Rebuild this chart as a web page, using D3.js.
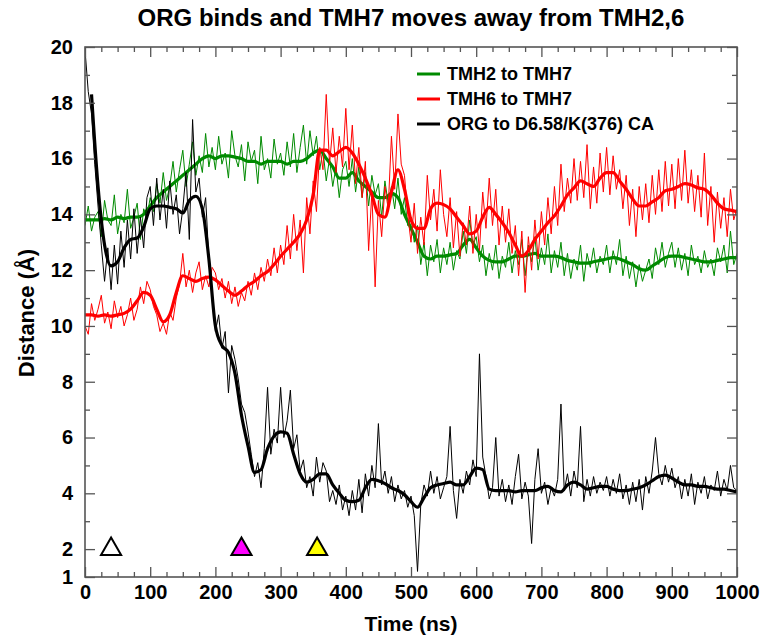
<!DOCTYPE html>
<html><head><meta charset="utf-8">
<script src="https://cdn.jsdelivr.net/npm/d3@7"></script>
<style>
body{margin:0;background:#fff}
svg text{font-family:"Liberation Sans",Arial,Helvetica,sans-serif;font-weight:bold;fill:#000}
</style>
</head><body>
<svg id="chart" width="763" height="637"></svg>
<script>
// ---------------- DATA ----------------
const title = "ORG binds and TMH7 moves away from TMH2,6";
const xLabel = "Time (ns)";
const yLabel = "Distance (Å)";
const seriesNames = ["TMH2 to TMH7", "TMH6 to TMH7", "ORG to D6.58/K(376) CA"];
const seriesColors = ["#008a00", "#ff0000", "#000000"];

const xTicks = [0,100,200,300,400,500,600,700,800,900,1000];
const yTicks = [1,2,4,6,8,10,12,14,16,18,20];

// raw samples every 5 ns (0..1000)
const rawTimes = d3.range(0, 1001, 5);
const tmh2Raw = [
13.6,14.3,13.4,13.9,14.1,13.2,14.5,13.8,13.6,14.7,13.3,14.0,13.7,14.9,13.5,13.9,14.4,13.1,14.2,13.9,
14.6,14.1,15.1,14.4,15.5,14.5,15.0,15.9,14.8,15.6,16.3,15.0,15.8,16.6,15.4,16.1,15.5,16.9,15.7,16.4,
15.6,16.8,15.8,16.2,15.3,17.0,16.1,15.7,16.5,15.2,16.6,15.9,16.3,15.1,16.8,15.6,16.0,15.3,16.7,15.8,
16.2,15.4,16.6,15.7,16.9,15.5,16.4,17.2,15.8,17.0,16.1,16.8,15.6,16.3,15.2,16.0,15.0,15.7,14.6,15.6,
15.9,15.0,16.0,14.8,15.7,14.6,15.5,14.3,15.4,14.7,15.1,13.9,15.2,14.4,15.0,14.2,15.3,14.0,14.6,13.6,
13.9,13.0,13.6,12.2,13.0,11.8,12.9,12.3,13.1,11.9,12.8,12.2,13.0,12.0,12.7,12.4,13.4,12.6,13.8,12.9,
13.2,12.3,12.9,11.8,12.6,12.0,12.9,11.7,12.5,12.1,13.0,11.9,12.7,12.2,13.1,11.8,12.9,12.3,13.2,12.0,
12.8,12.2,13.3,11.9,12.7,12.1,13.0,11.8,12.6,11.7,12.4,12.0,12.9,11.6,12.6,12.1,12.8,11.9,12.5,12.2,
12.9,11.9,12.7,12.2,13.1,11.8,12.5,11.7,12.3,11.4,12.2,11.6,12.0,12.4,11.7,12.8,12.2,13.0,12.1,12.6,
13.0,12.1,12.8,12.0,12.6,11.8,12.9,12.2,12.5,11.9,12.7,12.1,12.4,11.8,12.8,12.3,12.9,11.9,13.4,12.2,
12.6];
const tmh6Raw = [
10.0,9.7,10.8,10.2,10.6,11.1,10.1,10.5,9.9,10.9,10.3,10.7,10.0,10.4,11.0,10.2,10.6,11.4,10.8,11.6,
11.3,10.7,10.4,9.8,10.1,9.7,10.5,10.2,11.0,11.5,12.6,11.4,12.0,11.2,11.9,12.3,11.3,11.8,11.4,12.1,
11.9,11.3,11.7,11.0,11.6,10.8,11.4,10.7,11.2,10.9,11.6,11.1,11.9,11.3,12.1,11.6,12.4,11.8,12.8,11.9,
12.9,12.2,13.6,12.4,14.0,12.7,13.8,11.9,14.6,13.3,15.2,14.1,16.4,15.6,18.3,15.8,17.1,15.5,16.8,15.7,
17.8,15.6,17.2,15.1,16.4,14.6,15.9,12.7,14.8,11.4,14.5,13.2,15.0,14.2,16.8,14.9,17.6,15.8,15.4,14.0,
13.0,14.4,12.6,13.9,12.9,15.4,13.8,14.9,13.4,15.6,14.0,13.2,14.6,12.8,14.1,12.5,13.7,12.9,14.3,12.6,
14.0,12.7,14.8,13.5,15.3,13.6,14.9,12.9,14.3,13.0,14.2,12.6,13.6,11.8,13.4,11.2,13.2,12.0,13.8,12.4,
14.1,12.9,14.6,13.3,15.0,13.6,15.8,14.1,15.3,14.4,16.0,14.5,15.9,14.6,16.5,14.2,15.7,14.4,16.2,14.8,
16.4,14.7,16.1,14.9,15.6,14.2,15.4,13.6,14.9,13.2,15.0,13.8,15.1,13.7,15.4,14.0,15.6,14.1,15.9,14.3,
15.8,14.2,16.0,14.5,16.3,14.4,15.6,14.1,15.4,13.9,16.2,13.6,15.0,13.0,14.8,13.5,14.6,13.2,14.9,13.8,
14.2];
const orgRaw = [
19.9,18.4,17.6,15.8,14.3,12.9,11.6,12.8,11.3,12.9,11.5,13.4,12.1,13.8,12.4,14.2,12.6,13.9,12.8,14.6,
15.0,13.6,15.3,13.8,14.9,13.5,15.2,14.0,14.7,13.3,14.2,15.5,13.1,17.4,14.8,15.3,13.9,14.6,12.4,11.2,
9.8,10.4,9.2,9.8,7.6,9.3,8.8,8.1,7.2,6.9,6.2,5.4,4.6,5.1,4.2,5.6,7.8,5.4,6.3,5.8,
7.8,6.0,6.6,7.7,5.6,6.1,4.8,5.2,4.2,4.6,3.9,5.3,4.4,5.1,4.8,3.7,4.1,3.6,4.3,3.4,
3.9,3.2,4.1,3.4,4.5,3.3,4.7,3.9,5.0,4.2,6.5,4.3,4.8,4.0,4.6,3.7,4.3,3.8,4.1,3.5,
3.9,3.2,1.2,3.6,4.3,3.9,4.8,4.0,4.6,3.8,4.2,4.6,6.4,4.1,3.1,4.5,4.0,4.8,4.3,5.2,
4.6,9.0,5.3,4.6,3.8,4.2,6.0,3.9,4.5,3.7,4.3,3.6,4.6,5.4,3.8,4.4,3.9,2.2,4.5,5.6,
4.0,4.4,3.6,4.2,3.9,4.5,7.2,4.1,4.7,3.9,4.8,4.2,6.4,3.7,4.5,3.9,4.6,4.0,4.4,4.1,
4.6,3.9,4.5,4.0,4.7,3.8,4.3,3.6,4.4,3.7,4.5,3.4,4.6,4.0,4.8,6.0,4.7,4.3,5.0,4.4,
4.9,4.2,4.6,3.8,4.5,3.9,4.7,3.6,4.4,4.0,4.6,3.8,4.3,4.1,4.8,3.9,4.5,4.1,5.0,4.2,
4.1];

// running averages every 10 ns (0..1000)
const smoothTimes = d3.range(0, 1001, 10);
const tmh2Smooth = [
13.8,13.8,13.8,13.85,13.8,13.9,13.85,13.9,13.9,14.0,
14.3,14.6,14.8,15.0,15.2,15.4,15.6,15.8,16.0,16.1,
16.0,16.1,16.1,16.05,16.0,15.9,15.9,15.8,15.9,15.9,
15.9,15.8,15.9,15.9,16.0,16.2,16.3,16.0,15.7,15.3,
15.3,15.5,15.2,15.0,14.8,14.6,14.6,14.75,14.6,14.0,
13.5,13.0,12.5,12.4,12.5,12.5,12.55,12.6,12.9,13.1,
12.8,12.5,12.35,12.3,12.3,12.4,12.5,12.5,12.55,12.6,
12.5,12.5,12.5,12.45,12.35,12.3,12.25,12.25,12.3,12.35,
12.4,12.45,12.4,12.3,12.2,12.05,12.0,12.15,12.3,12.45,
12.5,12.5,12.45,12.4,12.35,12.3,12.3,12.35,12.4,12.45,
12.45];
const tmh6Smooth = [
10.4,10.4,10.35,10.4,10.35,10.4,10.45,10.6,10.9,11.2,
11.1,10.6,10.15,10.4,11.2,11.8,11.7,11.6,11.7,11.75,
11.65,11.45,11.25,11.1,11.25,11.45,11.6,11.8,11.95,12.2,
12.5,12.75,13.0,13.3,13.8,14.7,16.3,16.3,16.1,16.25,
16.4,16.2,15.8,15.3,14.7,14.0,13.9,14.8,15.6,14.9,
13.8,13.5,13.5,14.2,14.4,14.35,14.2,13.9,13.6,13.3,
13.4,13.9,14.25,14.0,13.7,13.35,12.9,12.5,12.7,13.1,
13.4,13.7,13.95,14.3,14.7,14.95,15.2,15.1,15.0,15.3,
15.5,15.5,15.2,14.9,14.55,14.3,14.3,14.45,14.6,14.85,
14.9,15.0,15.1,15.05,14.95,14.9,14.7,14.4,14.2,14.15,
14.1];
const orgSmooth = [
null,18.3,15.0,12.9,12.15,12.3,12.8,13.1,13.15,13.55,
14.2,14.3,14.3,14.25,14.2,14.05,14.5,14.65,14.2,12.4,
10.0,9.3,9.05,8.3,6.8,5.7,4.75,4.85,5.6,6.05,
6.2,6.15,5.4,4.7,4.4,4.5,4.7,4.7,4.3,4.0,
3.75,3.7,3.75,4.2,4.5,4.45,4.35,4.2,4.1,3.95,
3.7,3.5,3.85,4.2,4.3,4.35,4.4,4.3,4.3,4.6,
4.9,4.85,4.15,4.1,4.1,4.1,4.05,4.1,4.1,4.1,
4.2,4.25,4.1,4.05,4.3,4.4,4.3,4.15,4.2,4.25,
4.25,4.15,4.1,4.1,4.15,4.2,4.3,4.45,4.6,4.65,
4.55,4.4,4.3,4.3,4.25,4.25,4.2,4.15,4.15,4.1,
4.05];

// event markers (triangles) on the time axis
const markerTimes = [40, 240, 356];
const markerLevel = 2;
const markerColors = ["#ffffff", "#ff00ff", "#ffff00"];

// ---------------- CHART ----------------
const svg = d3.select("#chart");
const L = 85, R = 737, T = 47, B = 577;
const x = d3.scaleLinear().domain([0, 1000]).range([L, R]);
const y = d3.scaleLinear().domain([1, 20]).range([B, T]);

svg.append("rect").attr("width", 763).attr("height", 637).attr("fill", "#fff");

svg.append("defs").append("clipPath").attr("id", "clip")
  .append("rect").attr("x", L).attr("y", T).attr("width", R - L).attr("height", B - T);

const plot = svg.append("g").attr("clip-path", "url(#clip)");

const rawLine = d3.line().x((d, i) => x(rawTimes[i])).y(d => y(d));
const smoothLine = d3.line()
  .defined(d => d != null)
  .x((d, i) => x(smoothTimes[i])).y(d => y(d))
  .curve(d3.curveMonotoneX);

const raws = [tmh2Raw, tmh6Raw, orgRaw];
const smooths = [tmh2Smooth, tmh6Smooth, orgSmooth];
raws.forEach((r, k) => {
  plot.append("path").attr("d", rawLine(r)).attr("fill", "none")
    .attr("stroke", seriesColors[k]).attr("stroke-width", 1).attr("stroke-linejoin", "round");
  plot.append("path").attr("d", smoothLine(smooths[k])).attr("fill", "none")
    .attr("stroke", seriesColors[k]).attr("stroke-width", 3.2).attr("stroke-linejoin", "round");
});

// axes
const axisColor = "#555";
const minorX = d3.range(0, 1001, 25).filter(v => v % 100 !== 0);
const minorY = d3.range(1, 21, 1).filter(v => v % 2 === 1 && v > 1);
const majorY = yTicks.filter(v => v > 1);
const fontSize = 20;

function styleAxis(g) {
  g.select(".domain").remove();
  g.selectAll(".tick line").attr("stroke", axisColor).attr("stroke-width", 1.3);
  g.selectAll("text").style("font-size", fontSize + "px").attr("fill", "#000");
}

// bottom
svg.append("g").attr("transform", `translate(0,${B})`)
  .call(d3.axisBottom(x).tickValues(xTicks).tickSize(-10).tickPadding(8).tickFormat(d3.format("d")))
  .call(styleAxis);
svg.append("g").attr("transform", `translate(0,${B})`)
  .call(d3.axisBottom(x).tickValues(minorX).tickSize(-5).tickFormat(""))
  .call(styleAxis);
// top
svg.append("g").attr("transform", `translate(0,${T})`)
  .call(d3.axisTop(x).tickValues(xTicks).tickSize(-10).tickFormat(""))
  .call(styleAxis);
svg.append("g").attr("transform", `translate(0,${T})`)
  .call(d3.axisTop(x).tickValues(minorX).tickSize(-5).tickFormat(""))
  .call(styleAxis);
// left
svg.append("g").attr("transform", `translate(${L},0)`)
  .call(d3.axisLeft(y).tickValues(yTicks).tickSize(-10).tickPadding(12).tickFormat(d3.format("d")))
  .call(styleAxis);
svg.append("g").attr("transform", `translate(${L},0)`)
  .call(d3.axisLeft(y).tickValues(minorY).tickSize(-5).tickFormat(""))
  .call(styleAxis);
// right
svg.append("g").attr("transform", `translate(${R},0)`)
  .call(d3.axisRight(y).tickValues(majorY).tickSize(-10).tickFormat(""))
  .call(styleAxis);
svg.append("g").attr("transform", `translate(${R},0)`)
  .call(d3.axisRight(y).tickValues(minorY).tickSize(-5).tickFormat(""))
  .call(styleAxis);

// frame
svg.append("rect").attr("x", L).attr("y", T).attr("width", R - L).attr("height", B - T)
  .attr("fill", "none").attr("stroke", axisColor).attr("stroke-width", 1.6);

// markers
svg.append("g").selectAll("path").data(markerTimes).join("path")
  .attr("d", d3.symbol(d3.symbolTriangle, 175))
  .attr("transform", d => `translate(${x(d)},${y(markerLevel)})`)
  .attr("fill", (d, i) => markerColors[i])
  .attr("stroke", "#000").attr("stroke-width", 2);

// titles
svg.append("text").attr("x", 411).attr("y", 26).attr("text-anchor", "middle")
  .style("font-size", "24px").text(title);
svg.append("text").attr("x", 411).attr("y", 631).attr("text-anchor", "middle")
  .style("font-size", "21px").text(xLabel);
svg.append("text").attr("transform", "translate(34,313) rotate(-90)").attr("text-anchor", "middle")
  .style("font-size", "22px").text(yLabel);

// legend
const lg = svg.append("g");
seriesNames.forEach((n, i) => {
  const yy = 74 + i * 25;
  lg.append("line").attr("x1", 417).attr("x2", 440).attr("y1", yy).attr("y2", yy)
    .attr("stroke", seriesColors[i]).attr("stroke-width", 3);
  lg.append("text").attr("x", 447).attr("y", yy + 6).style("font-size", "18px").text(n);
});
</script>
</body></html>
